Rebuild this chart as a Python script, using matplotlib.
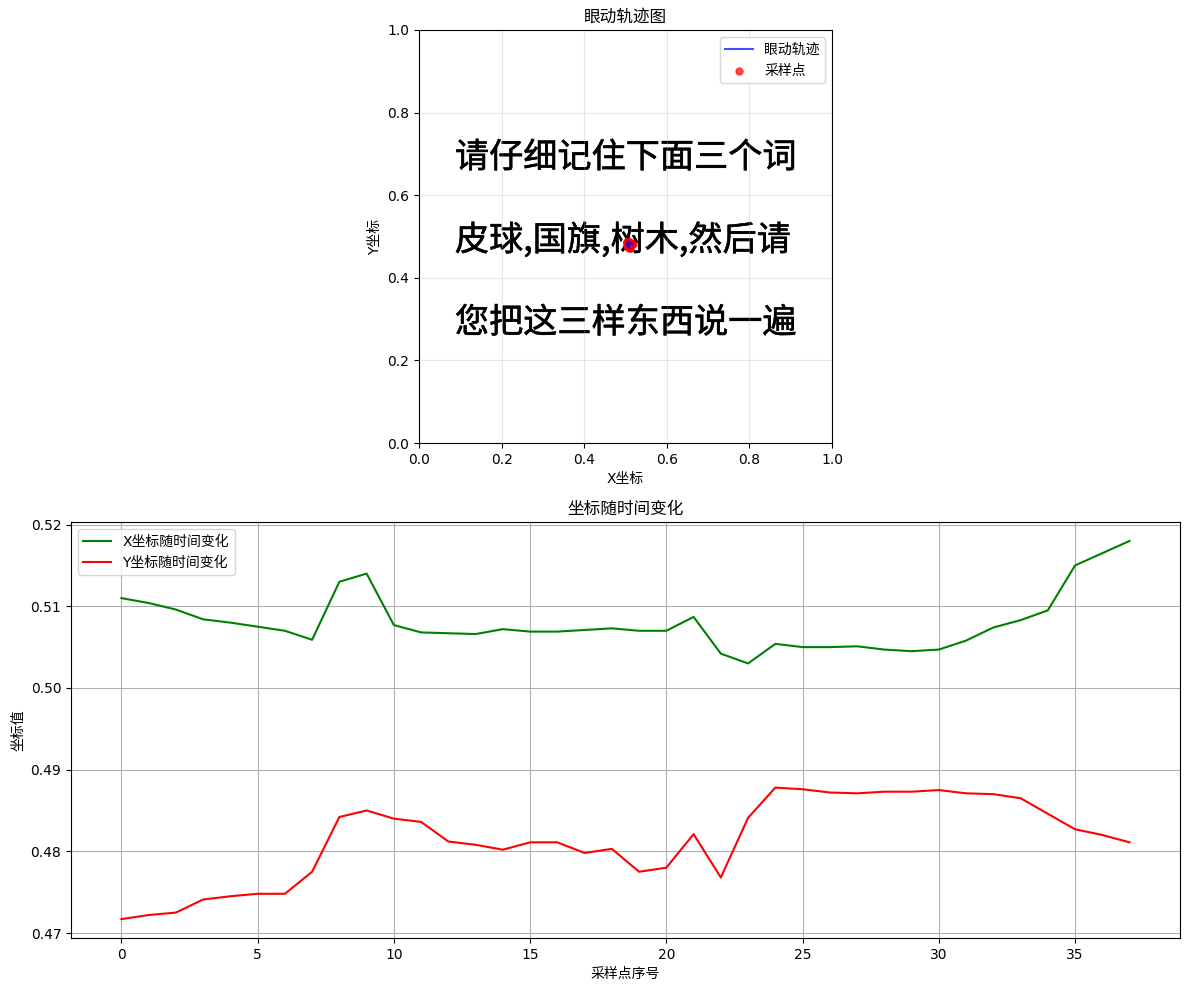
import numpy as np
import matplotlib
matplotlib.use("Agg")
import matplotlib.pyplot as plt
import matplotlib.patheffects as pe

plt.rcParams['font.family'] = ['DejaVu Sans', 'Noto Sans CJK SC']
plt.rcParams['axes.unicode_minus'] = False

# gaze samples (normalised screen coordinates)
x_coords = [0.5110, 0.5104, 0.5096, 0.5084, 0.5080, 0.5075, 0.5070, 0.5059,
            0.5130, 0.5140, 0.5077, 0.5068, 0.5067, 0.5066, 0.5072, 0.5069,
            0.5069, 0.5071, 0.5073, 0.5070, 0.5070, 0.5087, 0.5042, 0.5030,
            0.5054, 0.5050, 0.5050, 0.5051, 0.5047, 0.5045, 0.5047, 0.5058,
            0.5074, 0.5083, 0.5095, 0.5150, 0.5165, 0.5180]
y_coords = [0.4717, 0.4722, 0.4725, 0.4741, 0.4745, 0.4748, 0.4748, 0.4775,
            0.4842, 0.4850, 0.4840, 0.4836, 0.4812, 0.4808, 0.4802, 0.4811,
            0.4811, 0.4798, 0.4803, 0.4775, 0.4780, 0.4821, 0.4768, 0.4841,
            0.4878, 0.4876, 0.4872, 0.4871, 0.4873, 0.4873, 0.4875, 0.4871,
            0.4870, 0.4865, 0.4846, 0.4827, 0.4820, 0.4811]

# stimulus text shown behind the trajectory
prompt_lines = ["请仔细记住下面三个词", "皮球,国旗,树木,然后请", "您把这三样东西说一遍"]
prompt_y = [0.69, 0.49, 0.29]

idx = np.arange(len(x_coords))

fig = plt.figure(figsize=(11.89, 9.9), dpi=100)
ax1 = fig.add_axes([0.0597, 0.5525, 0.9327, 0.4172])
ax2 = fig.add_axes([0.0597, 0.0525, 0.9327, 0.4202])

# --- top: trajectory on the screen ---
for line, ty in zip(prompt_lines, prompt_y):
    ax1.text(0.087, ty, line, fontsize=24.6,
             family=['Noto Sans CJK SC', 'DejaVu Sans'],
             va='center', ha='left', zorder=0,
             path_effects=[pe.withStroke(linewidth=0.4, foreground='black')])
ax1.plot(x_coords, y_coords, color='blue', alpha=0.7, label='眼动轨迹')
ax1.scatter(x_coords, y_coords, color='red', s=25, alpha=0.7, label='采样点')
ax1.set_xlim(0, 1)
ax1.set_ylim(0, 1)
ax1.set_aspect('equal')
ax1.set_title('眼动轨迹图')
ax1.set_xlabel('X坐标')
ax1.set_ylabel('Y坐标')
ax1.legend(loc='upper right')
ax1.grid(True, alpha=0.3)

# --- bottom: coordinates over time ---
ax2.plot(idx, x_coords, color='green', label='X坐标随时间变化')
ax2.plot(idx, y_coords, color='red', label='Y坐标随时间变化')
ax2.set_title('坐标随时间变化')
ax2.set_xlabel('采样点序号')
ax2.set_ylabel('坐标值')
ax2.legend(loc='upper left')
ax2.grid(True)

plt.savefig('out.png')
